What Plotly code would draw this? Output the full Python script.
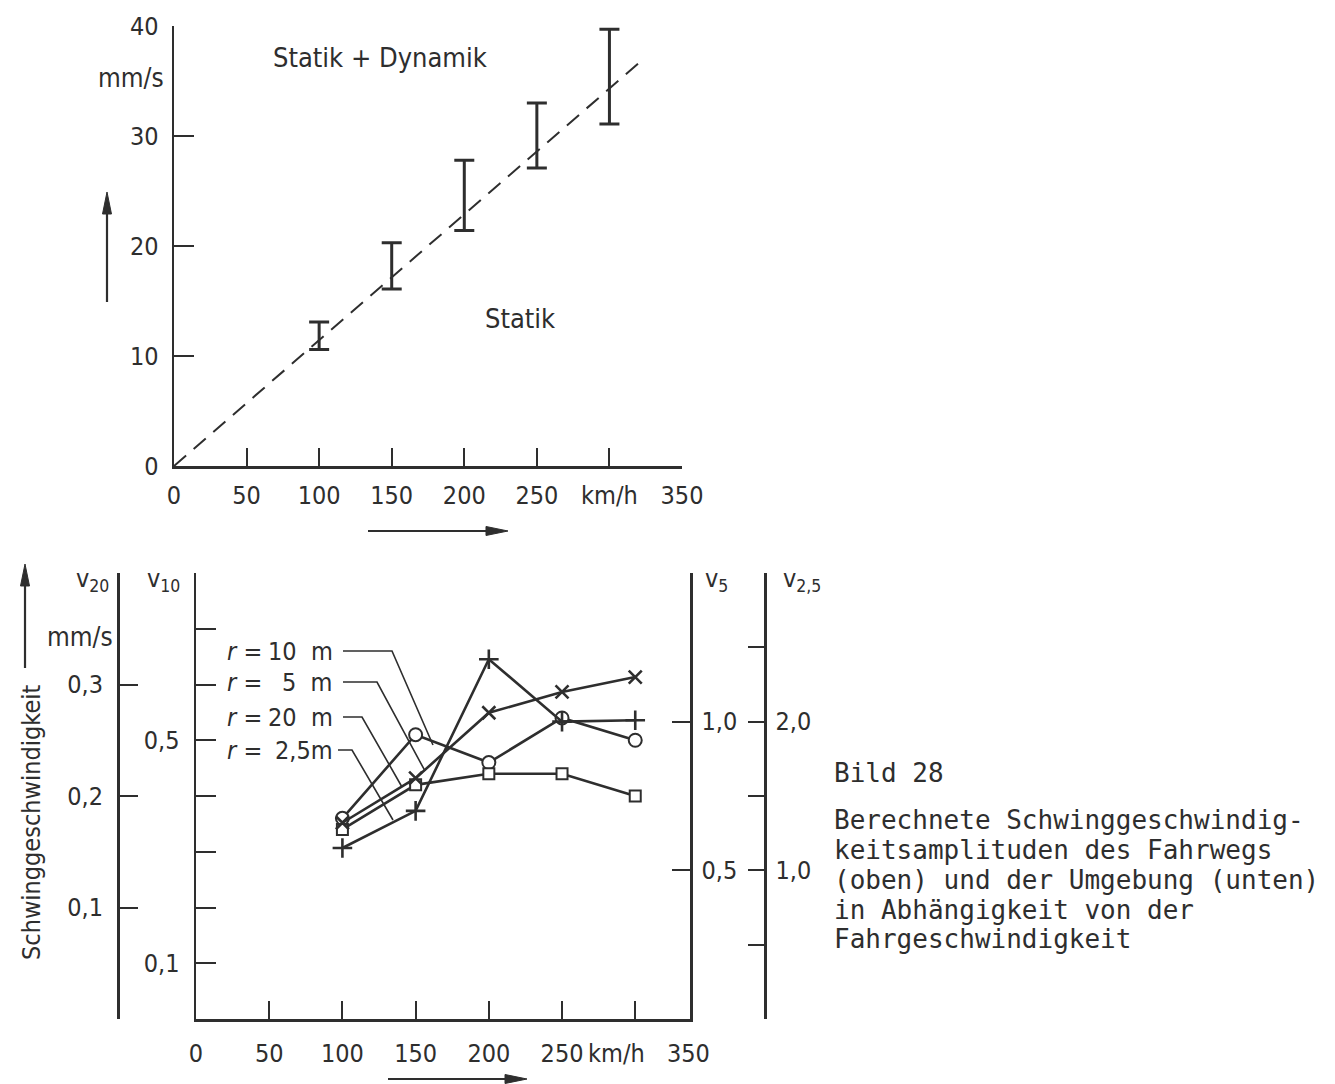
import plotly.graph_objects as go

# ---------------- data: upper chart (Fahrweg) ----------------
speed_top = [100, 150, 200, 250, 300]
bar_low = [10.6, 16.1, 21.4, 27.1, 31.1]
bar_high = [13.1, 20.3, 27.8, 33.0, 39.7]
static_x = [0, 320]
static_y = [0, 36.6]
top_xticks = [0, 50, 100, 150, 200, 250, 300, 350]
top_xticktext = ["0", "50", "100", "150", "200", "250", "km/h", "350"]
top_yticks = [0, 10, 20, 30, 40]
top_yticktext = ["0", "10", "20", "30", "40"]

# ---------------- data: lower chart (Umgebung) ----------------
speed = [100, 150, 200, 250, 300]
v10_r10 = [0.36, 0.51, 0.46, 0.54, 0.50]    # r = 10 m (circles)
v5_r5 = [0.66, 0.81, 1.03, 1.10, 1.15]      # r = 5 m (crosses)
v20_r20 = [0.17, 0.21, 0.22, 0.22, 0.20]    # r = 20 m (squares)
v25_r25 = [1.15, 1.40, 2.42, 2.00, 2.01]    # r = 2,5 m (plus)

bot_xticks = [0, 50, 100, 150, 200, 250, 300]
bot_xticktext = ["0", "50", "100", "150", "200", "250", ""]
v20_ticks = [0, 0.1, 0.2, 0.3, 0.4]
v20_text = ["", "0,1", "0,2", "0,3", ""]
v10_ticks = [0, 0.1, 0.2, 0.3, 0.4, 0.5, 0.6, 0.7, 0.8]
v10_text = ["", "0,1", "", "", "", "0,5", "", "", ""]
v5_ticks = [0, 0.5, 1.0, 1.5]
v5_text = ["", "0,5", "1,0", ""]
v25_ticks = [0, 0.5, 1.0, 1.5, 2.0, 2.5, 3.0]
v25_text = ["", "", "1,0", "", "2,0", "", ""]

caption = [
    "Bild 28",
    "Berechnete Schwinggeschwindig-",
    "keitsamplituden des Fahrwegs",
    "(oben) und der Umgebung (unten)",
    "in Abhängigkeit von der",
    "Fahrgeschwindigkeit",
]

# ---------------- geometry helpers ----------------
W, H = 1335, 1084


def px(x):
    return x / W


def py(y):
    return 1 - y / H


INK = "#2e2e2e"
FONT = "DejaVu Sans Condensed, DejaVu Sans, sans-serif"
MONO = "DejaVu Sans Mono, Liberation Mono, monospace"
FS = 25


def split_ticks(vals, texts):
    major = [v for v, t in zip(vals, texts) if t]
    labels = [t for t in texts if t]
    minor = [v for v, t in zip(vals, texts) if not t]
    return major, labels, minor


def axis(vals, texts, ticklen, standoff, **kw):
    major, labels, minor = split_ticks(vals, texts)
    d = dict(showline=True, linecolor=INK, linewidth=2.5, ticks="inside",
             tickcolor=INK, tickwidth=2, ticklen=ticklen, showgrid=False,
             zeroline=False, automargin=False, fixedrange=True,
             tickmode="array", tickvals=major, ticktext=labels,
             ticklabelstandoff=standoff,
             tickfont=dict(family=FONT, size=FS, color=INK))
    if minor:
        d["minor"] = dict(tickmode="array", tickvals=minor, ticks="inside",
                          ticklen=ticklen, tickwidth=2, tickcolor=INK, showgrid=False)
    d.update(kw)
    return d


fig = go.Figure()

# ---------- upper chart ----------
fig.add_trace(go.Scatter(
    x=static_x, y=static_y, mode="lines",
    line=dict(color=INK, width=2, dash="16px,10px"),
    xaxis="x", yaxis="y", showlegend=False, hoverinfo="skip"))

fig.add_trace(go.Scatter(
    x=speed_top, y=bar_low, mode="markers",
    marker=dict(size=1, color="rgba(0,0,0,0)"),
    error_y=dict(type="data", symmetric=False,
                 array=[h - l for h, l in zip(bar_high, bar_low)],
                 arrayminus=[0] * len(bar_low),
                 color=INK, thickness=3, width=10),
    xaxis="x", yaxis="y", showlegend=False))

# ---------- lower chart ----------
line_style = dict(color=INK, width=2.6)
fig.add_trace(go.Scatter(
    x=speed, y=v20_r20, mode="lines+markers", xaxis="x2", yaxis="y3",
    line=line_style,
    marker=dict(symbol="square", size=11, color="white", line=dict(color=INK, width=2)),
    showlegend=False))
fig.add_trace(go.Scatter(
    x=speed, y=v5_r5, mode="lines+markers", xaxis="x2", yaxis="y4",
    line=line_style,
    marker=dict(symbol="x-thin", size=13, color=INK, line=dict(color=INK, width=2.6)),
    showlegend=False))
fig.add_trace(go.Scatter(
    x=speed, y=v25_r25, mode="lines+markers", xaxis="x2", yaxis="y5",
    line=line_style,
    marker=dict(symbol="cross-thin", size=14, color=INK, line=dict(color=INK, width=2.6)),
    showlegend=False))
fig.add_trace(go.Scatter(
    x=speed, y=v10_r10, mode="lines+markers", xaxis="x2", yaxis="y2",
    line=line_style,
    marker=dict(symbol="circle", size=13, color="white", line=dict(color=INK, width=2)),
    showlegend=False))

fig.update_layout(
    width=W, height=H, autosize=False,
    margin=dict(l=0, r=0, t=0, b=0, pad=0),
    paper_bgcolor="white", plot_bgcolor="white",
    xaxis=axis(top_xticks, top_xticktext, 18, 5,
               domain=[px(174), px(682)], range=[0, 350], anchor="y"),
    yaxis=axis(top_yticks, top_yticktext, 20, 8,
               domain=[py(466), py(26)], range=[0, 40], anchor="x"),
    xaxis2=axis(bot_xticks, bot_xticktext, 18, 10,
                domain=[px(196), px(690)], range=[0, 337.4], anchor="y2"),
    yaxis2=axis(v10_ticks, v10_text, 20, 9,
                domain=[py(1019), py(573)], range=[0, 0.8], anchor="x2"),
    yaxis3=axis(v20_ticks, v20_text, 18, 9,
                overlaying="y2", anchor="free", position=px(118), side="left",
                range=[0, 0.4]),
    yaxis4=axis(v5_ticks, v5_text, 18, 4,
                overlaying="y2", anchor="x2", side="right", range=[0, 1.5]),
    yaxis5=axis(v25_ticks, v25_text, 16, 4,
                overlaying="y2", anchor="free", position=px(765), side="right",
                range=[0, 3.0]),
)

ann = []
shapes = []


def text(x, y, s, size=FS, xanchor="center", family=FONT, angle=0):
    ann.append(dict(x=px(x), y=py(y), xref="paper", yref="paper", text=s,
                    showarrow=False, xanchor=xanchor, yanchor="middle",
                    textangle=angle, font=dict(family=family, size=size, color=INK)))


def seg(points, width=1.6):
    path = "M " + " L ".join(f"{px(x):.5f},{py(y):.5f}" for x, y in points)
    shapes.append(dict(type="path", path=path, xref="paper", yref="paper",
                       line=dict(color=INK, width=width)))


def arrow(x0, y0, x1, y1, head=22, half=4.5, width=2.2):
    # shaft + filled triangular head pointing to (x1, y1)
    dx, dy = x1 - x0, y1 - y0
    n = (dx * dx + dy * dy) ** 0.5
    ux, uy = dx / n, dy / n
    bx, by = x1 - ux * head, y1 - uy * head
    seg([(x0, y0), (bx, by)], width=width)
    p = [(x1, y1), (bx - uy * half, by + ux * half), (bx + uy * half, by - ux * half)]
    path = "M " + " L ".join(f"{px(a):.5f},{py(b):.5f}" for a, b in p) + " Z"
    shapes.append(dict(type="path", path=path, xref="paper", yref="paper",
                       fillcolor=INK, line=dict(color=INK, width=1)))


# upper chart labels
text(380, 57, "Statik + Dynamik", size=27)
text(520, 318, "Statik", size=27)
text(166, 78, "mm/s", xanchor="right", size=26)
arrow(107, 302, 107, 192)
arrow(368, 531, 508, 531)

# lower chart labels
text(80, 637, "mm/s", size=26)
text(92, 580, "v<sub>20</sub>")
text(163, 580, "v<sub>10</sub>")
text(716, 580, "v<sub>5</sub>")
text(802, 580, "v<sub>2,5</sub>")
text(31, 822, "Schwinggeschwindigkeit", angle=-90)
arrow(25, 668, 25, 564)
arrow(388, 1079, 527, 1079)
text(616, 1053, "km/h")
text(688, 1053, "350")

# curve labels with leader lines
labels = [("10\u00a0\u00a0m", 651, 343, 392, 433, 745),
          ("5\u00a0\u00a0m", 682, 343, 377, 425, 771),
          ("20\u00a0\u00a0m", 717, 343, 362, 402, 787),
          ("2,5m", 750, 338, 352, 393, 820)]
for s, yl, x0, xb, xt, yt in labels:
    text(225, yl, "<i>r</i> =", xanchor="left", size=25)
    text(335, yl, s, xanchor="right", size=25)
    seg([(x0, yl), (xb, yl), (xt, yt)], width=1.6)

# caption
cap_y = [773, 820, 850, 880, 910, 939]
for s, yy in zip(caption, cap_y):
    text(832, yy, s, xanchor="left", family=MONO, size=26)

fig.update_layout(annotations=ann, shapes=shapes)
fig.write_html(
    "out.html",
    config={"displayModeBar": False, "staticPlot": True},
    post_script=("document.body.style.margin='0px';"
                 "document.body.style.overflow='hidden';"
                 "document.documentElement.style.overflow='hidden';"),
)
